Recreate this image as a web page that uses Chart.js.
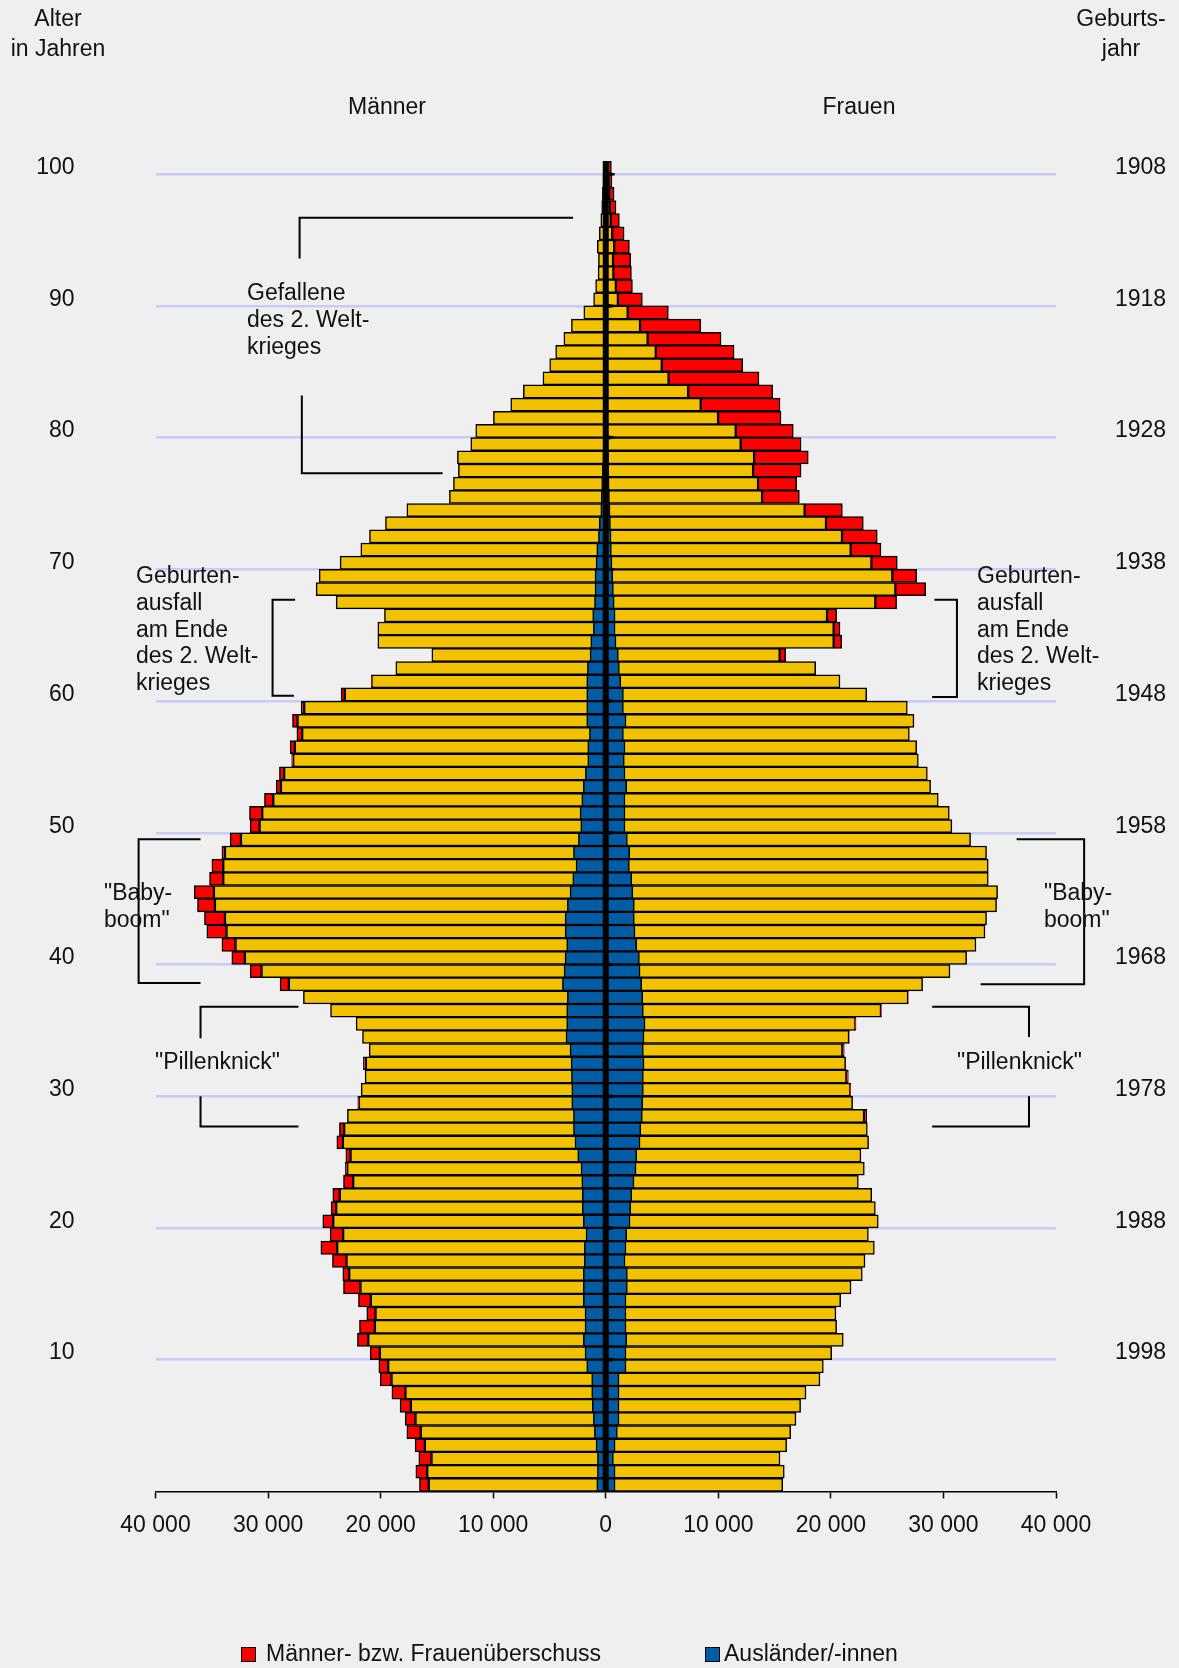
<!DOCTYPE html>
<html lang="de">
<head>
<meta charset="utf-8">
<title>Altersaufbau der Bevölkerung</title>
<script src="https://cdn.jsdelivr.net/npm/chart.js@4/dist/chart.umd.min.js"></script>
<style>
  html, body { margin: 0; padding: 0; background: #eeefee; }
  #wrap { width: 1179px; height: 1668px; }
</style>
</head>
<body>
<div id="wrap"><canvas id="chart" width="1179" height="1668"></canvas></div>
<script>
// Alter in Jahren (Index = Alter), Werte in Tausend
const ages = Array.from({ length: 101 }, (_, i) => i);

const menTotal = [
  16.55, 16.87, 16.61, 16.94, 17.67, 17.82, 18.27, 19.00, 20.04, 20.16,
  20.93, 22.06, 21.88, 21.23, 21.97, 23.30, 23.36, 24.28, 25.31, 24.49,
  25.14, 24.40, 24.25, 23.30, 23.15, 23.09, 23.89, 23.66, 22.95, 22.03,
  21.73, 21.38, 21.53, 21.02, 21.61, 22.18, 24.45, 26.86, 28.93, 31.59,
  33.22, 34.10, 35.44, 35.65, 36.27, 36.56, 35.20, 34.99, 34.10, 33.37,
  31.59, 31.65, 30.32, 29.28, 28.99, 27.90, 28.04, 27.44, 27.83, 27.06,
  23.51, 20.84, 18.65, 15.45, 20.25, 20.25, 19.66, 23.95, 25.73, 25.46,
  23.60, 21.76, 20.99, 19.57, 17.67, 13.89, 13.53, 13.09, 13.18, 11.99,
  11.55, 9.98, 8.44, 7.32, 5.58, 4.98, 4.45, 3.72, 3.05, 1.95,
  1.08, 0.90, 0.68, 0.65, 0.75, 0.57, 0.44, 0.36, 0.30, 0.25,
  0.20
];

const womenTotal = [
  15.72, 15.86, 15.48, 16.07, 16.43, 16.90, 17.31, 17.79, 19.03, 19.33,
  20.07, 21.10, 20.51, 20.45, 20.87, 21.79, 22.79, 23.03, 23.86, 23.33,
  24.21, 23.95, 23.63, 22.44, 22.97, 22.67, 23.35, 23.24, 23.18, 21.93,
  21.76, 21.55, 21.31, 21.19, 21.64, 22.23, 24.50, 26.88, 28.15, 30.58,
  32.06, 32.89, 33.69, 33.83, 34.72, 34.81, 33.98, 33.98, 33.83, 32.41,
  30.75, 30.52, 29.54, 28.86, 28.57, 27.77, 27.62, 26.97, 27.38, 26.79,
  23.18, 20.81, 18.65, 15.98, 20.96, 20.81, 20.51, 25.84, 28.42, 27.62,
  25.90, 24.45, 24.12, 22.88, 21.02, 17.20, 16.96, 17.35, 17.99, 17.35,
  16.66, 15.57, 15.48, 14.83, 13.61, 12.17, 11.40, 10.24, 8.44, 5.56,
  3.25, 2.37, 2.28, 2.22, 2.10, 1.63, 1.21, 0.91, 0.74, 0.55,
  0.50
];

const menForeign = [
  0.80, 0.74, 0.74, 0.86, 1.01, 1.10, 1.19, 1.25, 1.25, 1.69,
  1.84, 1.99, 1.84, 1.84, 1.99, 1.99, 1.99, 1.90, 1.90, 1.75,
  1.99, 2.08, 2.08, 2.13, 2.19, 2.49, 2.73, 2.87, 2.87, 3.02,
  3.02, 3.05, 3.08, 3.17, 3.53, 3.47, 3.47, 3.41, 3.85, 3.70,
  3.61, 3.47, 3.61, 3.61, 3.41, 3.17, 2.93, 2.64, 2.87, 2.43,
  2.22, 2.28, 2.13, 1.99, 1.81, 1.60, 1.60, 1.45, 1.69, 1.69,
  1.69, 1.69, 1.63, 1.39, 1.33, 1.10, 1.16, 1.00, 0.95, 0.95,
  0.86, 0.80, 0.65, 0.57, 0.44, 0.40, 0.36, 0.30, 0.26, 0.22,
  0.20, 0.18, 0.16, 0.14, 0.12, 0.10, 0.09, 0.08, 0.07, 0.06,
  0.05, 0.05, 0.04, 0.04, 0.03, 0.03, 0.03, 0.02, 0.02, 0.02,
  0.02
];

const womenForeign = [
  0.83, 0.83, 0.68, 0.83, 1.03, 1.18, 1.18, 1.18, 1.18, 1.80,
  1.80, 1.86, 1.80, 1.80, 1.80, 1.92, 1.92, 1.71, 1.80, 1.86,
  2.16, 2.22, 2.31, 2.51, 2.69, 2.75, 3.05, 3.11, 3.25, 3.28,
  3.34, 3.34, 3.40, 3.34, 3.40, 3.49, 3.34, 3.28, 3.19, 3.05,
  2.99, 2.75, 2.60, 2.54, 2.54, 2.40, 2.31, 2.10, 2.13, 1.92,
  1.71, 1.71, 1.71, 1.86, 1.71, 1.65, 1.71, 1.57, 1.80, 1.57,
  1.57, 1.33, 1.21, 1.12, 0.91, 0.83, 0.83, 0.75, 0.68, 0.62,
  0.55, 0.50, 0.47, 0.42, 0.38, 0.33, 0.30, 0.27, 0.25, 0.22,
  0.20, 0.18, 0.16, 0.14, 0.12, 0.10, 0.09, 0.08, 0.07, 0.06,
  0.05, 0.05, 0.04, 0.04, 0.03, 0.03, 0.03, 0.02, 0.02, 0.02,
  0.02
];

const ageTicks = [10, 20, 30, 40, 50, 60, 70, 80, 90, 100];
const yearTicks = [1998, 1988, 1978, 1968, 1958, 1948, 1938, 1928, 1918, 1908];
const xTicks = [-40000, -30000, -20000, -10000, 0, 10000, 20000, 30000, 40000];

const YELLOW = "#f2c200";
const RED = "#ff0000";
const BLUE = "#005ca5";
const GRID = "#cacaf8";
const TEXT = "#111111";
const FONT = '"Liberation Sans", Arial, Helvetica, sans-serif';

Chart.defaults.font.family = FONT;
Chart.defaults.font.size = 23;
Chart.defaults.color = TEXT;

// Balken: gelb = kleinerer Wert beider Geschlechter, rot = Überschuss
const common = ages.map(a => Math.min(menTotal[a], womenTotal[a]));

const menYellow = ages.map(a => ({ y: a, x: -common[a] * 1000 }));
const womenYellow = ages.map(a => ({ y: a, x: common[a] * 1000 }));
const menRed = ages.map(a => ({
  y: a,
  x: menTotal[a] > womenTotal[a] ? [-menTotal[a] * 1000, -common[a] * 1000] : null
}));
const womenRed = ages.map(a => ({
  y: a,
  x: womenTotal[a] > menTotal[a] ? [common[a] * 1000, womenTotal[a] * 1000] : null
}));
const menBlue = ages.map(a => ({ y: a, x: -menForeign[a] * 1000 }));
const womenBlue = ages.map(a => ({ y: a, x: womenForeign[a] * 1000 }));

function barSet(label, data, color) {
  return {
    label: label,
    data: data,
    backgroundColor: color,
    borderColor: "#000",
    borderWidth: 1.5,
    borderSkipped: false,
    grouped: false,
    barPercentage: 1,
    categoryPercentage: 1
  };
}

function fmt(v) {
  return String(Math.abs(v)).replace(/\B(?=(\d{3})+(?!\d))/g, " ");
}

// Klammern in Datenkoordinaten (x in Tausend, y in Altersjahren)
const brackets = [
  [[-27.2, 93.1], [-27.2, 96.2], [-2.9, 96.2]],
  [[-27.0, 82.7], [-27.0, 76.8], [-14.5, 76.8]],
  [[-27.6, 67.2], [-29.6, 67.2], [-29.6, 59.9], [-27.7, 59.9]],
  [[29.2, 67.2], [31.2, 67.2], [31.2, 59.8], [29.0, 59.8]],
  [[-36.0, 49.0], [-41.5, 49.0], [-41.5, 38.1], [-36.0, 38.1]],
  [[36.5, 49.0], [42.5, 49.0], [42.5, 38.0], [33.3, 38.0]],
  [[-27.3, 36.3], [-36.0, 36.3], [-36.0, 33.9]],
  [[-36.0, 29.5], [-36.0, 27.2], [-27.3, 27.2]],
  [[29.0, 36.3], [37.6, 36.3], [37.6, 34.0]],
  [[37.6, 29.5], [37.6, 27.2], [29.0, 27.2]]
];

const notes = [
  { lines: ["Gefallene", "des 2. Welt-", "krieges"], x: 247, y: 294 },
  { lines: ["Geburten-", "ausfall", "am Ende", "des 2. Welt-", "krieges"], x: 136, y: 577 },
  { lines: ["Geburten-", "ausfall", "am Ende", "des 2. Welt-", "krieges"], x: 977, y: 577 },
  { lines: ["\"Baby-", "boom\""], x: 104, y: 894 },
  { lines: ["\"Baby-", "boom\""], x: 1044, y: 894 },
  { lines: ["\"Pillenknick\""], x: 155, y: 1063 },
  { lines: ["\"Pillenknick\""], x: 957, y: 1063 }
];

const headers = [
  { text: "Alter", x: 58, y: 20 },
  { text: "in Jahren", x: 58, y: 50 },
  { text: "Geburts-", x: 1121, y: 20 },
  { text: "jahr", x: 1121, y: 50 },
  { text: "Männer", x: 387, y: 108 },
  { text: "Frauen", x: 859, y: 108 }
];

const legendItems = [
  { text: "Männer- bzw. Frauenüberschuss", color: RED, box: 241, tx: 266 },
  { text: "Ausländer/-innen", color: BLUE, box: 705, tx: 724 }
];

const pyramidNotes = {
  id: "pyramidNotes",
  afterDatasetsDraw(chart) {
    // Nulllinie mit kleinen Marken auf Höhe der Gitterlinien
    const ctx = chart.ctx;
    const area = chart.chartArea;
    const x0 = chart.scales.x.getPixelForValue(0);
    const sy = chart.scales.y;
    ctx.save();
    ctx.fillStyle = "#000";
    ctx.fillRect(x0 - 3, area.top, 6, area.bottom - area.top);
    ageTicks.forEach(a => {
      const py = sy.getPixelForValue(a - 0.5);
      ctx.beginPath();
      ctx.moveTo(x0, py - 2.5);
      ctx.lineTo(x0 + 9, py - 1);
      ctx.lineTo(x0 + 9, py + 1);
      ctx.lineTo(x0, py + 2.5);
      ctx.closePath();
      ctx.fill();
    });
    ctx.restore();
  },
  afterDraw(chart) {
    const ctx = chart.ctx;
    const sx = chart.scales.x;
    const sy = chart.scales.y;
    ctx.save();

    ctx.strokeStyle = "#000";
    ctx.lineWidth = 2;
    brackets.forEach(b => {
      ctx.beginPath();
      b.forEach((p, i) => {
        const px = sx.getPixelForValue(p[0] * 1000);
        const py = sy.getPixelForValue(p[1]);
        if (i === 0) ctx.moveTo(px, py); else ctx.lineTo(px, py);
      });
      ctx.stroke();
    });

    ctx.fillStyle = TEXT;
    ctx.font = "23px " + FONT;
    ctx.textBaseline = "middle";
    ctx.textAlign = "left";
    notes.forEach(n => {
      n.lines.forEach((line, i) => ctx.fillText(line, n.x, n.y + i * 26.6));
    });

    ctx.textAlign = "center";
    headers.forEach(h => ctx.fillText(h.text, h.x, h.y));

    ctx.textAlign = "left";
    legendItems.forEach(l => {
      ctx.fillStyle = l.color;
      ctx.fillRect(l.box, 1647, 15, 15);
      ctx.lineWidth = 1;
      ctx.strokeRect(l.box + 0.5, 1647.5, 14, 14);
      ctx.fillStyle = TEXT;
      ctx.fillText(l.text, l.tx, 1655);
    });

    ctx.restore();
  }
};

function ageAxis(position, extra) {
  return Object.assign({
    type: "linear",
    position: position,
    min: -0.5,
    max: 100.5,
    offset: false,
    afterBuildTicks: scale => { scale.ticks = ageTicks.map(v => ({ value: v })); },
    grid: { display: false, drawTicks: false, offset: false },
    border: { display: false }
  }, extra);
}

new Chart(document.getElementById("chart"), {
  type: "bar",
  data: {
    datasets: [
      barSet("Ausländer", menBlue, BLUE),
      barSet("Ausländerinnen", womenBlue, BLUE),
      barSet("Männerüberschuss", menRed, RED),
      barSet("Frauenüberschuss", womenRed, RED),
      barSet("Männer", menYellow, YELLOW),
      barSet("Frauen", womenYellow, YELLOW)
    ]
  },
  options: {
    indexAxis: "y",
    responsive: false,
    animation: false,
    layout: { padding: { left: 35, right: 13, top: 161, bottom: 116 } },
    plugins: {
      legend: { display: false },
      tooltip: { enabled: false }
    },
    scales: {
      x: {
        type: "linear",
        position: "bottom",
        min: -40000,
        max: 40000,
        afterBuildTicks: scale => { scale.ticks = xTicks.map(v => ({ value: v })); },
        ticks: { padding: 13, callback: v => fmt(v), maxRotation: 0 },
        border: { display: true, color: "#000", width: 1.5 },
        grid: {
          drawOnChartArea: false,
          drawTicks: true,
          tickLength: 7,
          tickColor: "#000",
          tickWidth: 1.5
        }
      },
      y: ageAxis("left", {
        afterFit: scale => { scale.width = 120.5; },
        ticks: { padding: 81 }
      }),
      yGrid: ageAxis("left", {
        afterBuildTicks: scale => { scale.ticks = ageTicks.map(v => ({ value: v - 0.5 })); },
        afterFit: scale => { scale.width = 0; },
        ticks: { display: false },
        grid: { display: true, color: GRID, lineWidth: 2.5, drawTicks: false, offset: false }
      }),
      y2: ageAxis("right", {
        afterFit: scale => { scale.width = 110; },
        ticks: {
          padding: 59,
          callback: v => yearTicks[ageTicks.indexOf(v)]
        }
      })
    }
  },
  plugins: [pyramidNotes]
});
</script>
</body>
</html>
